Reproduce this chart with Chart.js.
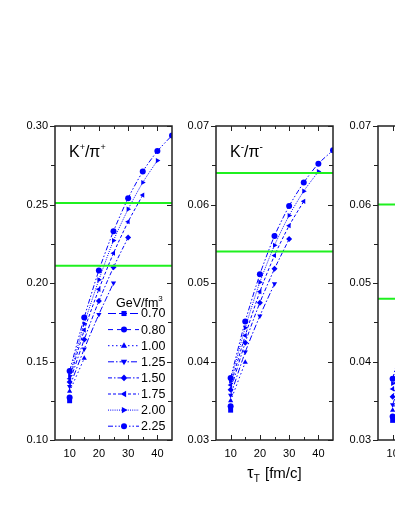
<!DOCTYPE html>
<html>
<head>
<meta charset="utf-8">
<script src="https://cdn.jsdelivr.net/npm/chart.js@4.4.0/dist/chart.umd.min.js"></script>
<style>
  html, body { margin: 0; padding: 0; background: #fff; overflow: hidden; }
  body { width: 395px; height: 511px; position: relative; }
  .panel { position: absolute; top: 0; width: 180px; height: 511px; }
</style>
</head>
<body>
<div class="panel" style="left:0"><canvas id="kPlusChart" width="180" height="511"></canvas></div>
<div class="panel" style="left:161px"><canvas id="kMinusChart" width="180" height="511"></canvas></div>
<div class="panel" style="left:323px"><canvas id="thirdChart" width="180" height="511"></canvas></div>
<script>
// =============================================
// Data
// =============================================
const tauValues = [10, 15, 20, 25, 30, 35, 40, 45];   // tau_T [fm/c]
const xTickValues = [10, 20, 30, 40];
const energyLabels = ['0.70', '0.80', '1.00', '1.25', '1.50', '1.75', '2.00', '2.25'];  // GeV/fm^3

// K+/pi+
const kPlus070 = [0.125];
const kPlus080 = [0.127];
const kPlus100 = [0.131, 0.152];
const kPlus125 = [0.134, 0.158, 0.180, 0.200];
const kPlus150 = [0.137, 0.164, 0.1885, 0.210, 0.229];
const kPlus175 = [0.139, 0.170, 0.196, 0.219, 0.239, 0.256];
const kPlus200 = [0.141, 0.174, 0.202, 0.227, 0.247, 0.264, 0.278];
const kPlus225 = [0.144, 0.178, 0.208, 0.233, 0.254, 0.271, 0.284, 0.294];
const kPlusTicks = [0.10, 0.15, 0.20, 0.25, 0.30];
const kPlusBands = [0.211, 0.251];

// K-/pi-
const kMinus070 = [0.0338];
const kMinus080 = [0.0343];
const kMinus100 = [0.0350, 0.0399];
const kMinus125 = [0.0357, 0.0412, 0.0458, 0.0499];
const kMinus150 = [0.0364, 0.0424, 0.0475, 0.0518, 0.0556];
const kMinus175 = [0.0370, 0.0433, 0.0489, 0.0535, 0.0573, 0.0604];
const kMinus200 = [0.0375, 0.0443, 0.0501, 0.0548, 0.0586, 0.0617, 0.0642];
const kMinus225 = [0.0379, 0.0451, 0.0511, 0.0560, 0.0598, 0.0628, 0.0652, 0.0669];
const kMinusTicks = [0.03, 0.04, 0.05, 0.06, 0.07];
const kMinusBands = [0.054, 0.064];

// third panel (only its left edge is in view)
const third070 = [0.0325];
const third080 = [0.0330];
const third100 = [0.0338, 0.0385];
const third125 = [0.0345, 0.0400];
const third150 = [0.0355, 0.0412];
const third175 = [0.0365, 0.0425];
const third200 = [0.0372, 0.0436];
const third225 = [0.0378, 0.0447];
const thirdTicks = [0.03, 0.04, 0.05, 0.06, 0.07];
const thirdBands = [0.048, 0.060];

// =============================================
// Styles
// =============================================
const BLUE = '#0000ff';
const GREEN = '#1ff01f';
const FRAME = '#222';
const FONT = "'Liberation Sans', Arial, sans-serif";

const markerStyles = ['rect', 'circle', 'triangle', 'triangle', 'rectRot', 'triangle', 'triangle', 'circle'];
const markerRotations = [0, 0, 0, 180, 0, 270, 90, 0];
const dashPatterns = [[8, 3], [5, 4], [1.5, 2.5], [6, 2, 1.5, 2], [4, 2, 1.5, 2], [3, 2], [1, 1.2], [5, 2, 1.5, 2, 1.5, 2]];

function drawMarker(ctx, style, rot, x, y, r) {
  ctx.save();
  ctx.translate(x, y);
  ctx.rotate(rot * Math.PI / 180);
  ctx.beginPath();
  if (style === 'circle') {
    ctx.arc(0, 0, r, 0, Math.PI * 2);
  } else if (style === 'rect') {
    const s = r * 0.85;
    ctx.rect(-s, -s, s * 2, s * 2);
  } else if (style === 'rectRot') {
    ctx.moveTo(0, -r * 1.1); ctx.lineTo(r * 1.1, 0); ctx.lineTo(0, r * 1.1); ctx.lineTo(-r * 1.1, 0);
  } else {
    ctx.moveTo(0, -r * 1.15); ctx.lineTo(r * 1.05, r * 0.7); ctx.lineTo(-r * 1.05, r * 0.7);
  }
  ctx.closePath();
  ctx.fill();
  ctx.restore();
}

// draw "base" + superscript / subscript pieces left to right
function drawParts(ctx, parts, x, y) {
  parts.forEach(p => {
    ctx.font = `${p.size}px ${FONT}`;
    ctx.fillText(p.text, x, y + (p.dy || 0));
    x += ctx.measureText(p.text).width + (p.gap || 0);
  });
}

const framePlugin = {
  id: 'frame',
  afterDraw(chart) {
    const o = chart.options.plugins.frame;
    const ctx = chart.ctx;
    const { left, right, top, bottom } = chart.chartArea;
    const xs = chart.scales.x, ys = chart.scales.y;

    ctx.save();
    ctx.strokeStyle = FRAME;
    ctx.lineWidth = 1;
    ctx.beginPath();
    for (let v = 10; v <= 40; v += 5) {
      const px = Math.round(xs.getPixelForValue(v)) + 0.5;
      const len = v % 10 === 0 ? 5 : 3;
      ctx.moveTo(px, bottom); ctx.lineTo(px, bottom - len);
      ctx.moveTo(px, top); ctx.lineTo(px, top + len);
    }
    const n = Math.round((o.yMax - o.yMin) / o.yMinor);
    for (let i = 0; i <= n; i++) {
      const py = Math.round(ys.getPixelForValue(o.yMin + i * o.yMinor)) + 0.5;
      const len = i % 2 === 0 ? 5 : 4;
      ctx.moveTo(left - len, py); ctx.lineTo(left, py);
      ctx.moveTo(right - len, py); ctx.lineTo(right, py);
    }
    ctx.stroke();
    ctx.lineWidth = 1.5;
    ctx.strokeRect(left, top, right - left, bottom - top);

    // panel title
    ctx.fillStyle = '#000';
    ctx.textBaseline = 'alphabetic';
    ctx.textAlign = 'left';
    if (o.title) drawParts(ctx, o.title, left + 14, 157);

    // x axis title
    if (o.xTitle) {
      const parts = [
        { text: 'τ', size: 16 },
        { text: 'T', size: 10, dy: 4, gap: 1 },
        { text: ' [fm/c]', size: 15 }
      ];
      let w = 0;
      parts.forEach(p => { ctx.font = `${p.size}px ${FONT}`; w += ctx.measureText(p.text).width + (p.gap || 0); });
      drawParts(ctx, parts, (left + right) / 2 - w / 2, 478);
    }

    // legend
    if (o.legend) {
      drawParts(ctx, [{ text: 'GeV/fm', size: 12.5 }, { text: '3', size: 8, dy: -6 }], 116, 307);
      energyLabels.forEach((label, i) => {
        const y = 313.5 + 16.1 * i;
        ctx.strokeStyle = BLUE;
        ctx.fillStyle = BLUE;
        ctx.lineWidth = 1;
        ctx.setLineDash(dashPatterns[i]);
        ctx.beginPath();
        ctx.moveTo(108, y); ctx.lineTo(139, y);
        ctx.stroke();
        ctx.setLineDash([]);
        drawMarker(ctx, markerStyles[i], markerRotations[i], 124, y, 3);
        ctx.fillStyle = '#000';
        ctx.font = `12.5px ${FONT}`;
        ctx.textBaseline = 'middle';
        ctx.fillText(label, 141, y + 0.5);
        ctx.textBaseline = 'alphabetic';
      });
    }
    ctx.restore();
  }
};

function buildDatasets(series, bands) {
  const sets = bands.map(b => ({
    data: [{ x: 5, y: b }, { x: 45, y: b }],
    borderColor: GREEN,
    borderWidth: 2,
    pointRadius: 0,
    order: 0
  }));
  series.forEach((vals, i) => {
    sets.push({
      label: energyLabels[i],
      data: vals.map((v, j) => ({ x: tauValues[j], y: v })),
      borderColor: BLUE,
      backgroundColor: BLUE,
      borderWidth: 1,
      borderDash: dashPatterns[i],
      pointStyle: markerStyles[i],
      pointRotation: markerRotations[i],
      pointRadius: markerStyles[i] === 'rect' ? 3.5 : 3,
      pointBorderWidth: 0,
      tension: 0.25,
      order: 1
    });
  });
  return sets;
}

function makePanel(id, cfg) {
  return new Chart(document.getElementById(id), {
    type: 'line',
    data: { datasets: buildDatasets(cfg.series, cfg.bands) },
    plugins: [framePlugin],
    options: {
      responsive: false,
      animation: false,
      devicePixelRatio: 1,
      layout: { padding: { top: 126, right: 8, bottom: 41, left: 0 } },
      plugins: {
        legend: { display: false },
        tooltip: { enabled: false },
        frame: {
          yMin: cfg.ticks[0], yMax: cfg.ticks[cfg.ticks.length - 1], yMinor: cfg.minor,
          title: cfg.title, legend: cfg.legend, xTitle: cfg.xTitle
        }
      },
      scales: {
        x: {
          type: 'linear', min: 5, max: 45,
          grid: { display: false, drawTicks: false }, border: { display: false },
          afterBuildTicks: s => { s.ticks = xTickValues.map(v => ({ value: v })); },
          afterFit: s => { s.height = 30; },
          ticks: { padding: 7, color: '#000', font: { family: FONT, size: 11 }, maxRotation: 0 }
        },
        y: {
          min: cfg.ticks[0], max: cfg.ticks[cfg.ticks.length - 1],
          grid: { display: false, drawTicks: false }, border: { display: false },
          afterBuildTicks: s => { s.ticks = cfg.ticks.map(v => ({ value: v })); },
          afterFit: s => { s.width = 55; },
          ticks: { padding: 7, color: '#000', font: { family: FONT, size: 11 }, callback: v => v.toFixed(2) }
        }
      }
    }
  });
}

makePanel('kPlusChart', {
  series: [kPlus070, kPlus080, kPlus100, kPlus125, kPlus150, kPlus175, kPlus200, kPlus225],
  bands: kPlusBands, ticks: kPlusTicks, minor: 0.025, legend: true,
  title: [{ text: 'K', size: 16 }, { text: '+', size: 9, dy: -7 }, { text: '/π', size: 16 }, { text: '+', size: 9, dy: -7 }]
});

makePanel('kMinusChart', {
  series: [kMinus070, kMinus080, kMinus100, kMinus125, kMinus150, kMinus175, kMinus200, kMinus225],
  bands: kMinusBands, ticks: kMinusTicks, minor: 0.005, xTitle: true,
  title: [{ text: 'K', size: 16 }, { text: '-', size: 10, dy: -7 }, { text: '/π', size: 16 }, { text: '-', size: 10, dy: -7 }]
});

makePanel('thirdChart', {
  series: [third070, third080, third100, third125, third150, third175, third200, third225],
  bands: thirdBands, ticks: thirdTicks, minor: 0.005
});
</script>
</body>
</html>
